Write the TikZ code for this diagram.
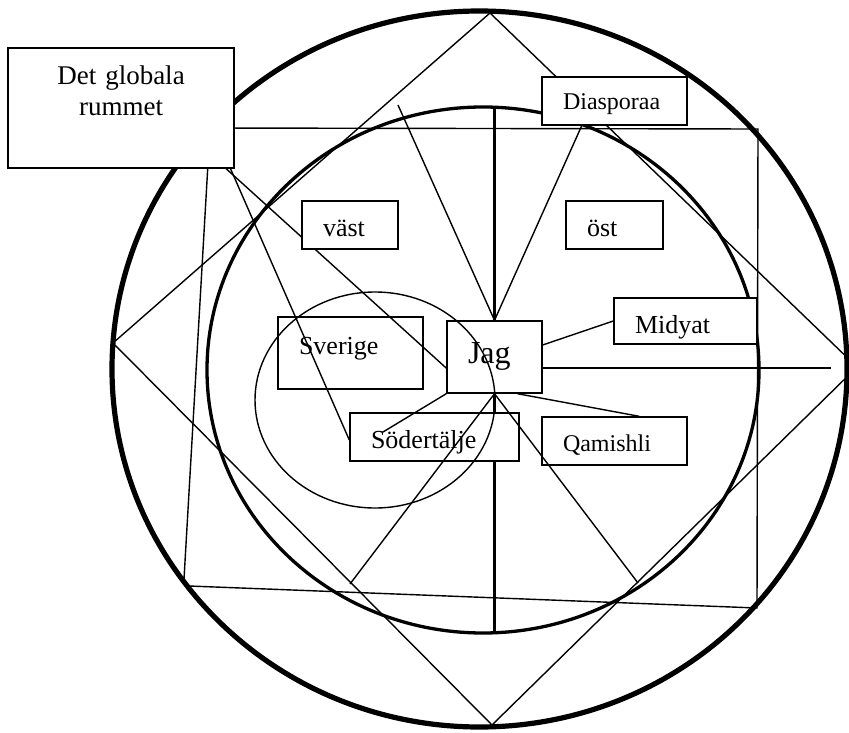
\documentclass[tikz,border=0pt]{standalone}
\usepackage{fontspec}
\setmainfont{Liberation Serif}
\usetikzlibrary{backgrounds}

\begin{document}
\begin{tikzpicture}[x=1pt,y=-1pt,
  tbox/.style={draw,fill=white,line width=1.4pt,inner xsep=21pt,inner ysep=0pt,align=left,font=\fontsize{26}{30}\selectfont},
  tpos/.style 2 args={text height=#1,text depth=#2},
  link/.style={line width=1.4pt},
  axisline/.style={line width=2.8pt},
  ring/.style={line width=3.3pt}]
  \useasboundingbox (0,0) rectangle (849,733);
  % Boxes
  \node[tbox,align=center,text width=184pt,tpos={37pt}{83pt},font=\fontsize{27}{31}\selectfont] (global) at (121,108) {Det globala\\rummet};
  \node[tbox,text width=54pt,tpos={35pt}{13pt}] (vast) at (350,225) {väst};
  \node[tbox,text width=55pt,tpos={35pt}{13pt}] (ost) at (614.5,225) {öst};
  \node[tbox,text width=103pt,tpos={33pt}{15pt},font=\fontsize{24}{28}\selectfont] (diaspora) at (614.5,101) {Diasporaa};
  \node[tbox,text width=101pt,tpos={35pt}{11pt}] (midyat) at (685.5,321) {Midyat};
  \node[tbox,text width=103pt,tpos={34pt}{14pt},font=\fontsize{24}{28}\selectfont] (qamishli) at (614.5,441) {Qamishli};
  \node[tbox,fill=none,text width=103pt,tpos={37pt}{35pt}] (sverige) at (350.5,353) {Sverige};
  \node[tbox,text width=53pt,tpos={42pt}{30pt},font=\fontsize{32}{36}\selectfont] (jag) at (494.5,357) {Jag};
  \node[tbox,text width=127pt,tpos={35pt}{13pt}] (soder) at (434.5,437) {Södertälje};
  % Free ends
  \coordinate (dtop) at (490,13);
  \coordinate (dright) at (857,367);
  \coordinate (dbot) at (492,725);
  \coordinate (dleft) at (113,343);
  \coordinate (sqne) at (758,129);
  \coordinate (sqse) at (757,608);
  \coordinate (sqsw) at (189,586);
  \coordinate (sqlow) at (184,579);
  \coordinate (ctop) at (494.5,107);
  \coordinate (cbot) at (494.5,632);
  \coordinate (upleft) at (398,105);
  \coordinate (hend) at (831,368);
  \coordinate (lowright) at (638,583);
  \coordinate (lowleft) at (350,584);
  \coordinate (insoder) at (383,432);
  \begin{pgfonlayer}{background}
    % Rings, square and diamond
    \draw[line width=5.2pt] (479.5,369) ellipse [x radius=367.5pt,y radius=358pt];
    \draw[ring] (483,370) ellipse [x radius=276pt,y radius=263pt];
    \draw[link] (dtop) -- (dright) -- (dbot) -- (dleft) -- cycle;
    \draw[link] (global.-10.5) -- (sqne) -- (sqse) -- (sqsw);
    \draw[link] (global.-35.5) -- (sqlow);
    \draw[link] (global.-30.2) -- (jag.193);
    % Axis through Jag
    \draw[axisline] (jag.north) -- (ctop);
    \draw[axisline] (jag.south) -- (cbot);
  \end{pgfonlayer}
  % Spokes from Jag
  \draw[link] (jag.north) -- (upleft);
  \draw[link] (jag.north) -- (diaspora.217);
  \draw[link] (jag.14.2) -- (midyat.west);
  \draw[link] (jag.-13) -- (jag.-13 -| hend);
  \draw[link] (jag.-58) -- (qamishli.45.6);
  \draw[link] (jag.south) -- (lowright);
  \draw[link] (jag.south) -- (lowleft);
  \draw[link] (jag.south west) -- (insoder);
  \draw[link] (global.-29.5) -- (soder.182);
  % Sweden ring
  \draw[link] (375,400) ellipse [x radius=120pt,y radius=108pt];
\end{tikzpicture}
\end{document}
